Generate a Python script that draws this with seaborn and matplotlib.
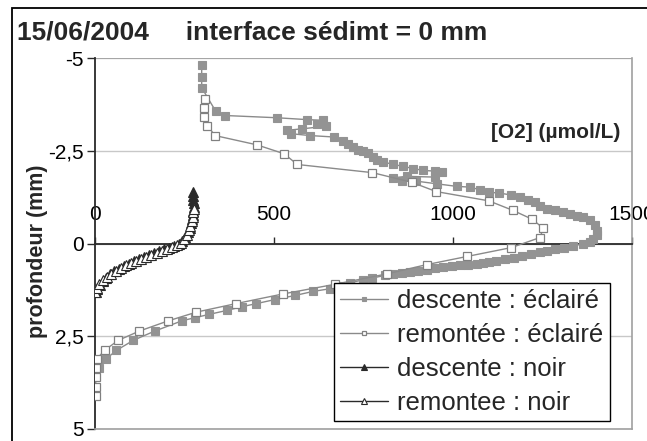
import matplotlib
matplotlib.use("Agg")
import matplotlib.pyplot as plt
from matplotlib.patches import Rectangle
import seaborn as sns

# ---------------- data ----------------
desc_ecl_x = [298, 298, 298, 337, 363, 507, 591, 638, 619, 645, 577, 535, 547, 600, 668,
              692, 707, 721, 735, 749, 763, 777, 787, 805, 833, 861, 889, 917, 950, 968,
              950, 871, 833, 857, 898, 954, 1010, 1047, 1075, 1101, 1129, 1161, 1187, 1210,
              1229, 1243, 1262, 1285, 1308, 1327, 1345, 1364, 1383, 1397, 1401, 1401, 1392,
              1383, 1364, 1336, 1310, 1285, 1262, 1243, 1218, 1194, 1170, 1145, 1120, 1100,
              1085, 1066, 1043, 1019, 996, 973, 950, 926, 903, 880, 857, 833, 810, 775, 749,
              712, 685, 656, 610, 559, 503, 451, 412, 370, 319, 279, 244, 167, 107, 60, 31, 12]
desc_ecl_y = [-4.82, -4.48, -4.20, -3.57, -3.45, -3.39, -3.34, -3.32, -3.23, -3.16, -3.09, -3.05,
              -2.96, -2.91, -2.87, -2.77, -2.68, -2.59, -2.52, -2.48, -2.43, -2.32, -2.24, -2.20,
              -2.13, -2.08, -2.02, -1.97, -1.95, -1.92, -1.79, -1.81, -1.77, -1.68, -1.68, -1.61,
              -1.54, -1.52, -1.45, -1.38, -1.36, -1.31, -1.25, -1.18, -1.11, -1.02, -0.94, -0.89,
              -0.84, -0.80, -0.75, -0.71, -0.62, -0.49, -0.35, -0.22, -0.13, -0.04, 0.01, 0.06,
              0.11, 0.14, 0.20, 0.24, 0.29, 0.35, 0.39, 0.43, 0.47, 0.50, 0.52, 0.55, 0.57, 0.59,
              0.61, 0.64, 0.66, 0.71, 0.75, 0.77, 0.80, 0.82, 0.86, 0.93, 0.98, 1.06, 1.14, 1.22,
              1.29, 1.40, 1.51, 1.62, 1.70, 1.80, 1.91, 2.00, 2.08, 2.36, 2.61, 2.88, 3.11, 3.35]

rem_ecl_x = [307, 304, 304, 314, 335, 452, 528, 565, 775, 885, 953, 1100, 1168, 1222, 1252,
             1243, 1163, 1039, 926, 815, 670, 525, 394, 283, 203, 124, 65, 28, 6, 2, 2, 2, 2]
rem_ecl_y = [-3.90, -3.65, -3.40, -3.18, -2.91, -2.66, -2.42, -2.13, -1.91, -1.65, -1.40, -1.15,
             -0.89, -0.65, -0.41, -0.16, 0.11, 0.35, 0.57, 0.82, 1.10, 1.36, 1.62, 1.85, 2.09,
             2.36, 2.61, 2.87, 3.10, 3.36, 3.61, 3.87, 4.12]

desc_noir_x = [273, 274, 275, 276, 276, 275, 274, 272, 268, 264, 259, 252, 244, 236, 222, 208,
               194, 180, 166, 151, 137, 122, 108, 94, 80, 66, 54, 42, 31, 21, 13, 6, 2]
desc_noir_y = [-1.38, -1.28, -1.18, -1.08, -0.98, -0.88, -0.78, -0.66, -0.54, -0.42, -0.30,
               -0.18, -0.07, 0.02, 0.07, 0.11, 0.16, 0.21, 0.26, 0.31, 0.37, 0.42, 0.48, 0.54,
               0.61, 0.68, 0.75, 0.83, 0.92, 1.01, 1.11, 1.22, 1.32]

rem_noir_x = [1, 5, 12, 22, 33, 45, 58, 72, 86, 100, 114, 129, 143, 157, 172, 186, 200, 214,
              228, 240, 249, 256, 262, 266, 270, 273, 275, 276]
rem_noir_y = [1.30, 1.20, 1.09, 0.99, 0.90, 0.81, 0.73, 0.66, 0.59, 0.53, 0.47, 0.42, 0.36,
              0.31, 0.26, 0.20, 0.14, 0.09, 0.04, -0.02, -0.12, -0.24, -0.36, -0.48, -0.60,
              -0.72, -0.84, -0.94]

series_labels = ["descente : éclairé", "remontée : éclairé", "descente : noir", "remontee : noir"]
x_ticks = [0, 500, 1000, 1500]
x_ticklabels = ["0", "500", "1000", "1500"]
y_ticks = [-5, -2.5, 0, 2.5, 5]
y_ticklabels = ["-5", "-2,5", "0", "2,5", "5"]
title_text = "15/06/2004     interface sédimt = 0 mm"
xlabel_text = "[O2] (µmol/L)"
ylabel_text = "profondeur (mm)"

# ---------------- style ----------------
sns.set_style("white")
plt.rcParams["font.family"] = ["Liberation Sans", "DejaVu Sans"]

fig = plt.figure(figsize=(6.47, 4.41), dpi=100)
ax = fig.add_axes([95 / 647, 1 - 429 / 441, 537 / 647, 371 / 441])

grey = "#8a8a8a"
fill_grey = "#939393"
dark = "#2a2a2a"

styles = [
    dict(color=grey, marker="s", markersize=5.6, markerfacecolor=fill_grey,
         markeredgecolor=fill_grey, markeredgewidth=0.8, linewidth=1.0),
    dict(color=grey, marker="s", markersize=5.6, markerfacecolor="white",
         markeredgecolor="#808080", markeredgewidth=0.9, linewidth=1.0),
    dict(color=dark, marker="^", markersize=6.6, markerfacecolor=dark,
         markeredgecolor=dark, markeredgewidth=0.8, linewidth=1.0),
    dict(color=dark, marker="^", markersize=6.6, markerfacecolor="white",
         markeredgecolor=dark, markeredgewidth=0.8, linewidth=1.0),
]
data = [(desc_ecl_x, desc_ecl_y), (rem_ecl_x, rem_ecl_y),
        (desc_noir_x, desc_noir_y), (rem_noir_x, rem_noir_y)]

for (xs, ys), lab, st in zip(data, series_labels, styles):
    sns.lineplot(x=xs, y=ys, sort=False, estimator=None, ax=ax, label=lab, zorder=3, **st)

ax.set_xlim(0, 1500)
ax.set_ylim(5, -5)

# grid and borders
ax.set_yticks(y_ticks)
ax.set_yticklabels(y_ticklabels)
ax.yaxis.grid(True, color="#c8c8c8", linewidth=1.0)
ax.xaxis.grid(False)
ax.axhline(-5, color="#a0a0a0", linewidth=1.2, zorder=2)
ax.spines["bottom"].set_color("#a0a0a0")
ax.spines["right"].set_color("#a0a0a0")
ax.spines["right"].set_linewidth(1.2)
ax.spines["bottom"].set_linewidth(1.2)
ax.spines["left"].set_color(dark)
ax.spines["left"].set_linewidth(1.3)
ax.spines["top"].set_position(("data", 0))
ax.spines["top"].set_color(dark)
ax.spines["top"].set_linewidth(1.3)
ax.spines["top"].set_zorder(2.5)

ax.xaxis.set_ticks_position("top")
ax.set_xticks(x_ticks)
ax.set_xticklabels(x_ticklabels)
ax.tick_params(axis="x", direction="out", length=5, width=1, color=dark, pad=9,
               labelsize=15, labelcolor="black")
ax.tick_params(axis="y", direction="out", length=6, width=1, color=dark, pad=2,
               labelsize=15, labelcolor="black", left=True)

ax.set_xlabel("")
ax.set_ylabel(ylabel_text, fontsize=15.5, fontweight="bold")
ax.yaxis.set_label_coords(-0.088, 0.48)
ax.text(0.978, 0.798, xlabel_text, transform=ax.transAxes, ha="right", va="center",
        fontsize=15, fontweight="bold")

fig.text(17 / 647, 1 - 32 / 441, title_text, fontsize=19, fontweight="bold",
         ha="left", va="center")

handles, labels = ax.get_legend_handles_labels()
leg = ax.legend(handles, labels, loc="upper left", bbox_to_anchor=(0.445, 0.394),
                frameon=True, fancybox=False, edgecolor="black", framealpha=1,
                fontsize=18.5, handlelength=1.85, borderpad=0.25, labelspacing=0.38,
                handletextpad=0.35, borderaxespad=0, markerscale=0.55)
leg.get_frame().set_linewidth(1.0)
leg.set_zorder(5)

fig.add_artist(Rectangle((12 / 647, -0.05), 1.2, 1 - 8 / 441 + 0.05, fill=False,
                         edgecolor="black", linewidth=1.3, transform=fig.transFigure))

fig.savefig("out.png", dpi=100)
